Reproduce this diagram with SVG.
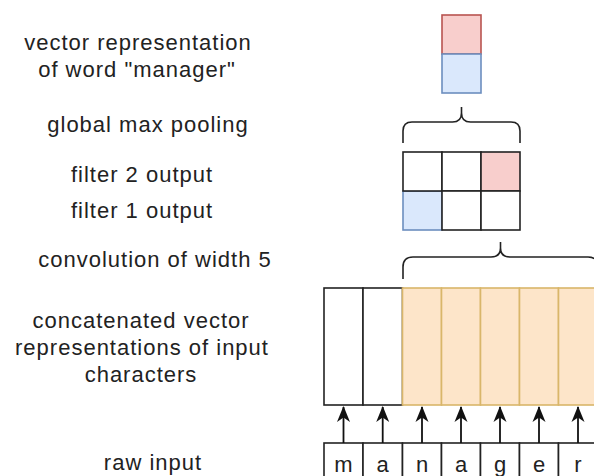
<svg xmlns="http://www.w3.org/2000/svg" width="594" height="476" viewBox="0 0 594 476">
<style>
.lbl{font-family:"Liberation Sans",Arial,sans-serif;font-size:22px;letter-spacing:1px;fill:#222;text-anchor:middle}
.ch{font-family:"Liberation Sans",Arial,sans-serif;font-size:22px;fill:#222;text-anchor:middle}
.blk{fill:#fff;stroke:#222;stroke-width:1.6}
.pink{fill:#f8cecc;stroke:#b85450;stroke-width:1.6}
.blue{fill:#dae8fc;stroke:#6c8ebf;stroke-width:1.6}
.org{fill:#fde5c9;stroke:#d9b66a;stroke-width:1.6}
.brace{fill:none;stroke:#222;stroke-width:1.6}
.arr{stroke:#111;stroke-width:1.8;fill:none;marker-end:url(#ah)}
</style>
<defs>
<marker id="ah" markerWidth="16" markerHeight="14" viewBox="0 0 16 14" refX="15" refY="7" orient="auto" markerUnits="userSpaceOnUse">
<path d="M0,0.5 L16,7 L0,13.5 L4.5,7 Z" fill="#111"/>
</marker>
</defs>
<rect width="594" height="476" fill="#fff"/>
<g id="labels">
<text class="lbl" x="138" y="50">vector representation</text>
<text class="lbl" x="137" y="77">of word "manager"</text>
<text class="lbl" x="148" y="132">global max pooling</text>
<text class="lbl" x="142" y="182">filter 2 output</text>
<text class="lbl" x="142" y="218">filter 1 output</text>
<text class="lbl" x="155" y="267">convolution of width 5</text>
<text class="lbl" x="141" y="328">concatenated vector</text>
<text class="lbl" x="142" y="355">representations of input</text>
<text class="lbl" x="141" y="382">characters</text>
<text class="lbl" x="153" y="470">raw input</text>
</g>
<g id="word-vector">
<rect class="pink" x="442" y="15" width="39" height="39"/>
<rect class="blue" x="442" y="54" width="39" height="39"/>
</g>
<g id="filter-outputs">
<rect class="blue" x="403" y="191" width="39" height="39"/>
<rect class="blk" x="403" y="152" width="39" height="39"/>
<rect class="blk" x="442" y="152" width="39" height="39"/>
<rect class="pink" x="481" y="152" width="39" height="39" style="stroke:#222"/>
<rect class="blk" x="442" y="191" width="39" height="39"/>
<rect class="blk" x="481" y="191" width="39" height="39"/>
</g>
<g id="concat-vectors">
<rect class="blk" x="324" y="288" width="39" height="117"/>
<rect class="blk" x="363" y="288" width="39.5" height="117"/>
<rect class="org" x="402.5" y="288" width="39" height="117"/>
<rect class="org" x="441.5" y="288" width="39" height="117"/>
<rect class="org" x="480.5" y="288" width="39" height="117"/>
<rect class="org" x="519.5" y="288" width="39" height="117"/>
<rect class="org" x="558.5" y="288" width="39" height="117"/>
</g>
<g id="raw-input">
<rect class="blk" x="324" y="443" width="39" height="40"/>
<rect class="blk" x="363" y="443" width="39.5" height="40"/>
<rect class="blk" x="402.5" y="443" width="39" height="40"/>
<rect class="blk" x="441.5" y="443" width="39" height="40"/>
<rect class="blk" x="480.5" y="443" width="39" height="40"/>
<rect class="blk" x="519.5" y="443" width="39" height="40"/>
<rect class="blk" x="558.5" y="443" width="39" height="40"/>
<text class="ch" x="343.5" y="472">m</text>
<text class="ch" x="382.7" y="472">a</text>
<text class="ch" x="422" y="472">n</text>
<text class="ch" x="461" y="472">a</text>
<text class="ch" x="500" y="472">g</text>
<text class="ch" x="539" y="472">e</text>
<text class="ch" x="578" y="472">r</text>
</g>
<g id="connectors">
<path class="brace" d="M403,143 L403,131 Q403,122 412,122 L452.5,122 Q461.5,122 461.5,113 L461.5,107 M461.5,113 Q461.5,122 470.5,122 L511,122 Q520,122 520,131 L520,143"/>
<path class="brace" d="M403,279 L403,267 Q403,257 413,257 L491,257 Q500.5,257 500.5,248 L500.5,242 M500.5,248 Q500.5,257 510,257 L588,257 Q598,257 598,267 L598,279"/>
<line class="arr" x1="343.5" y1="443" x2="343.5" y2="407"/>
<line class="arr" x1="382.7" y1="443" x2="382.7" y2="407"/>
<line class="arr" x1="422" y1="443" x2="422" y2="407"/>
<line class="arr" x1="461" y1="443" x2="461" y2="407"/>
<line class="arr" x1="500" y1="443" x2="500" y2="407"/>
<line class="arr" x1="539" y1="443" x2="539" y2="407"/>
<line class="arr" x1="578" y1="443" x2="578" y2="407"/>
</g>
</svg>
